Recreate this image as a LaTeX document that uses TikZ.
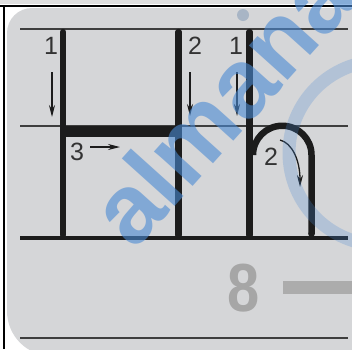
\documentclass[tikz,border=0pt]{standalone}
\usepackage{fontspec}
\setmainfont{Liberation Sans}
\usetikzlibrary{arrows.meta}
\definecolor{panelgrey}{HTML}{D5D6D8}
\definecolor{ink}{HTML}{1C1C1C}
\definecolor{wmblue}{HTML}{4A8AD4}
\tikzset{
guide/.style={
draw=ink!85,
line width=2pt
},
base/.style={
draw=ink,
line width=4pt
},
letter/.style={
draw=ink,
line width=6.5pt,
line cap=round
},
order/.style={
font=\fontsize{25}{25}\selectfont,
text=ink!90,
inner sep=0pt
},
orderarrow/.style={
-{Stealth[length=12pt,width=6pt]},
draw=ink,
line width=1.3pt
}
}
\begin{document}
\begin{tikzpicture}[x=1pt,y=-1pt]
\useasboundingbox (0,0) rectangle (352,349);
\fill[white] (0,0) rectangle (352,349);
\fill[gray!25] (0,0) rectangle (352,4);
\fill[panelgrey] (380,8) [rounded corners=25pt] -- (7,8) [rounded corners=45pt] -- (7,356) [sharp corners] -- (380,356) -- cycle;
\draw[black,line width=2.2pt] (0,6) -- (352,6);
\draw[black,line width=2.2pt] (4,6) -- (4,349);

% writing lines
\foreach \y/\s in {29/guide,126/guide,238/base}
\draw[\s] (20,\y) -- (348,\y);
\draw[guide,line width=2.8pt] (20,338) -- (348,338);

% letter H
\coordinate (h1t) at (63,32);
\coordinate (h1b) at (63,235);
\coordinate (h2t) at (178.5,32);
\coordinate (h2b) at (178.5,235);
\draw[letter] (h1t) -- (h1b);
\draw[letter] (h2t) -- (h2b);
\draw[letter,line width=10.5pt,line cap=butt] (60,131.5) -- (181,131.5);

% letter n
\coordinate (n1t) at (249.5,32);
\coordinate (n1b) at (249.5,235);
\coordinate (nar) at (253,155);
\draw[letter] (n1t) -- (n1b);
\draw[letter,line cap=butt] (nar) arc[start angle=180,end angle=360,radius=29.25] -- (311.5,234);
\fill[ink] (311.5,234) circle (3.25);

% stroke order
\node[order] (o1) at (51,46) {1};
\node[order] (o2) at (195,46) {2};
\node[order] (o3) at (77,152) {3};
\node[order] (p1) at (236,46) {1};
\node[order] (p2) at (271,157) {2};
\coordinate (a1s) at (52,72);
\coordinate (a1e) at (52,117);
\coordinate (a2s) at (190,72);
\coordinate (a2e) at (190,116);
\coordinate (a3s) at (90,147);
\coordinate (a3e) at (120,147);
\coordinate (b1s) at (237,72);
\coordinate (b1e) at (237,116);
\coordinate (b2s) at (280,140);
\coordinate (b2e) at (300,187);
\foreach \s/\e in {a1s/a1e,a2s/a2e,a3s/a3e,b1s/b1e}
\draw[orderarrow] (\s) -- (\e);
\draw[orderarrow] (b2s) .. controls (292,143) and (300,160) .. (b2e);

% next row
\node[font=\bfseries\fontsize{68}{68}\selectfont,text=gray!70,xscale=0.85] (eight) at (243.5,288) {8};
\fill[gray!65] (283,281) rectangle (352,294);

% watermark
\begin{scope}
\clip (0,0) rectangle (352,349);
\draw[wmblue,opacity=0.25,line width=13pt] (381,153) circle (92);
\fill[wmblue!50!gray,opacity=0.4] (243,15) circle (6);
\node[rotate=48,text=wmblue,opacity=0.6,font=\bfseries\fontsize{98}{98}\selectfont,anchor=base west,inner sep=0pt] (wm) at (134,252) {almana};
\end{scope}
\end{tikzpicture}
\end{document}
